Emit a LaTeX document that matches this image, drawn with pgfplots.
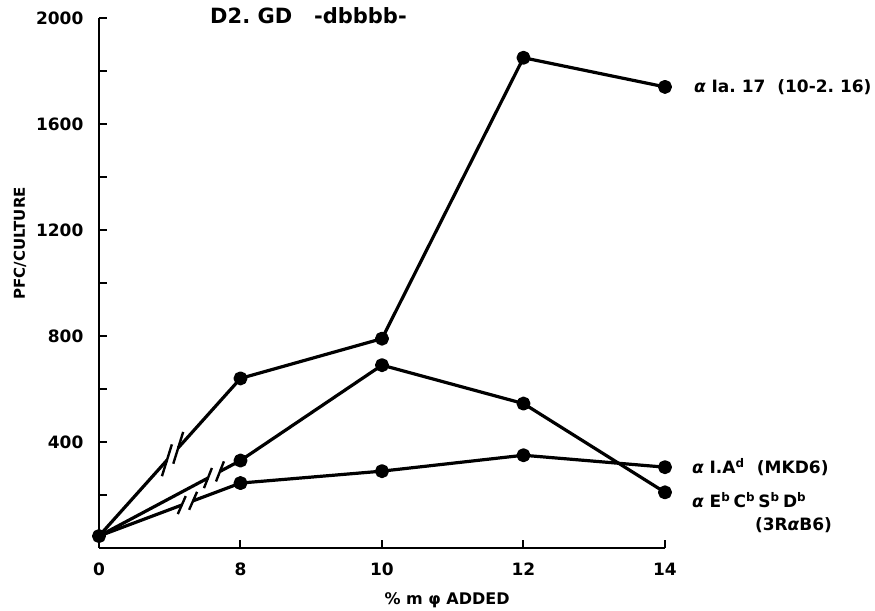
\documentclass[border=0pt]{standalone}
\usepackage{fontspec}
\setmainfont{DejaVu Sans}
\usepackage{pgfplots}
\pgfplotsset{compat=1.18}

\begin{document}
\begin{tikzpicture}
\begin{axis}[
  scale only axis,
  width=283pt, height=265pt,
  xmin=0, xmax=4, ymin=0, ymax=2000,
  axis lines=left,
  axis line style={-, line width=1.1pt},
  clip=false,
  xtick={0,1,2,3,4},
  xticklabels={0,8,10,12,14},
  ytick={400,800,1200,1600,2000},
  minor ytick={200,600,1000,1400,1800},
  tick align=inside,
  major tick length=4pt, minor tick length=4pt,
  every tick/.style={line width=1pt, black},
  every minor tick/.style={line width=1pt, black},
  tick label style={font=\fontsize{8.5}{10}\selectfont\bfseries},
  /pgf/number format/assume math mode=true,
  /pgf/number format/1000 sep={},
  xticklabel style={yshift=-4pt},
  yticklabel style={xshift=-4.3pt},
  cycle list={{black, no markers}},
  every axis plot/.append style={black, line width=1.6pt, line join=round},
]
% alpha Ia.17 (10-2.16)
\addplot[mark=*, mark size=2.7pt, mark indices={1}] coordinates {(0,45) (0.48,331)};
\addplot[mark=*, mark size=2.7pt, mark indices={2,3,4,5}] coordinates {
  (0.56,378) (1,640) (2,790) (3,1850) (4,1740)};
% alpha EbCbSbDb (3RaB6)
\addplot[no markers] coordinates {(0,45) (0.77,264)};
\addplot[mark=*, mark size=2.7pt, mark indices={2,3,4,5}] coordinates {
  (0.855,289) (1,330) (2,690) (3,545) (4,210)};
% alpha I.Ad (MKD6)
\addplot[no markers] coordinates {(0,45) (0.585,162)};
\addplot[mark=*, mark size=2.7pt, mark indices={2,3,4,5}] coordinates {
  (0.665,178) (1,245) (2,290) (3,350) (4,305)};

% break marks
\draw[line width=1.2pt] (axis cs:0.445,271) -- (axis cs:0.515,391);
\draw[line width=1.2pt] (axis cs:0.525,318) -- (axis cs:0.595,438);
\draw[line width=1.2pt] (axis cs:0.742,226) -- (axis cs:0.798,302);
\draw[line width=1.2pt] (axis cs:0.827,251) -- (axis cs:0.883,327);
\draw[line width=1.2pt] (axis cs:0.557,128) -- (axis cs:0.613,196);
\draw[line width=1.2pt] (axis cs:0.637,144) -- (axis cs:0.693,212);

% texts
\node[anchor=west, font=\fontsize{10.5}{12}\selectfont\bfseries]
  at (rel axis cs:0.184,1) [yshift=1pt] {D2.\ GD\ \ \ -dbbbb-};
\node[anchor=west, font=\fontsize{8.5}{10}\selectfont\bfseries]
  at (axis cs:4,1740) [xshift=11pt] {{\itshape α}\ Ia.\ 17\ \ (10-2.\ 16)};
\node[anchor=west, font=\fontsize{8.5}{10}\selectfont\bfseries]
  at (axis cs:4,305) [xshift=10pt] {{\itshape α}\ I.A\textsuperscript{d}\ \ (MKD6)};
\node[anchor=west, font=\fontsize{8.5}{10}\selectfont\bfseries]
  at (axis cs:4,210) [xshift=10pt, yshift=-4pt]
  {{\itshape α}\ E\textsuperscript{b}\,C\textsuperscript{b}\,S\textsuperscript{b}\,D\textsuperscript{b}};
\node[anchor=west, font=\fontsize{8.5}{10}\selectfont\bfseries]
  at (axis cs:4,87) [xshift=41.5pt] {(3R{\itshape α}B6)};
\node[font=\fontsize{8}{9}\selectfont\bfseries]
  at (axis cs:2.46,0) [yshift=-26pt] {\%\ m\ φ\ ADDED};
\node[rotate=90, font=\fontsize{7.5}{9}\selectfont\bfseries]
  at ([xshift=-39.5pt]rel axis cs:0,0.575) {PFC/CULTURE};
\end{axis}
\pgfresetboundingbox
\path[use as bounding box] (current axis.south west) ++(-49.5pt,-31.5pt) rectangle ++(437.5pt,305.5pt);
\end{tikzpicture}
\end{document}
